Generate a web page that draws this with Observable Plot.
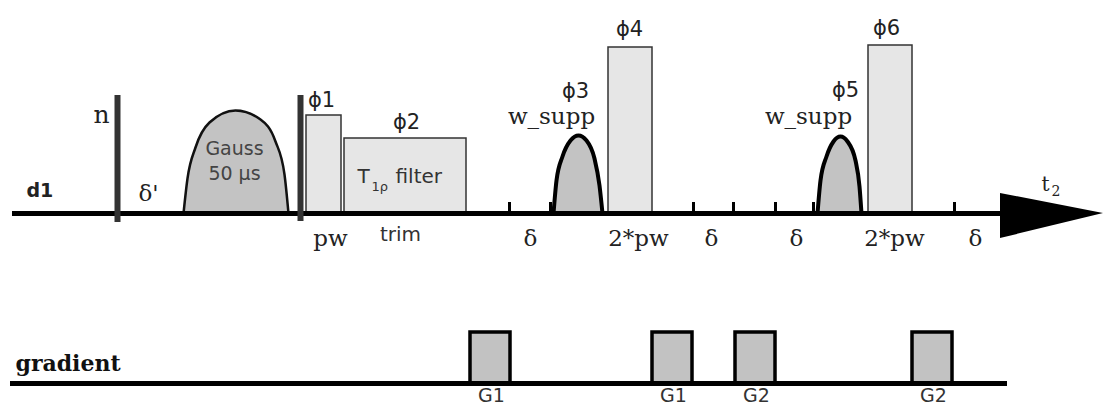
<!DOCTYPE html>
<html>
<head>
<meta charset="utf-8">
<script src="https://cdn.jsdelivr.net/npm/d3@7"></script>
<script src="https://cdn.jsdelivr.net/npm/@observablehq/plot@0.6"></script>
<style>
  html, body { margin: 0; padding: 0; background: #fff; }
  #chart svg { display: block; }
</style>
</head>
<body>
<div id="chart"></div>
<script>
// Channel baselines (RF line and gradient line)
const channels = [
  {name: "rf", y: 213, x1: 12, x2: 1002},
  {name: "gradient", y: 383, x1: 10, x2: 1007}
];
// Rectangular RF pulses
const pulses = [
  {name: "ϕ1", x1: 306, x2: 341, top: 115},
  {name: "ϕ2", x1: 344, x2: 466, top: 138},
  {name: "ϕ4", x1: 608, x2: 652, top: 47},
  {name: "ϕ6", x1: 868, x2: 912, top: 45}
];
// Gradient pulses
const gradients = [
  {name: "G1", x1: 470, x2: 510, top: 332},
  {name: "G1", x1: 652, x2: 692, top: 332},
  {name: "G2", x1: 735, x2: 775, top: 332},
  {name: "G2", x1: 912, x2: 952, top: 332}
];
// Shaped pulse outlines
const gaussShape = [
  {p: "gauss", x: 183, y: 213}, {p: "gauss", x: 187, y: 178}, {p: "gauss", x: 195, y: 147},
  {p: "gauss", x: 209, y: 122}, {p: "gauss", x: 235, y: 110}, {p: "gauss", x: 260, y: 119},
  {p: "gauss", x: 275, y: 141}, {p: "gauss", x: 284, y: 174}, {p: "gauss", x: 288, y: 213}
];
const wsuppShapes = [
  {p: "w1", x: 553, y: 213}, {p: "w1", x: 556, y: 180}, {p: "w1", x: 562, y: 156},
  {p: "w1", x: 570, y: 140}, {p: "w1", x: 578, y: 135}, {p: "w1", x: 586, y: 140},
  {p: "w1", x: 594, y: 158}, {p: "w1", x: 599, y: 185}, {p: "w1", x: 602, y: 213},
  {p: "w2", x: 817, y: 213}, {p: "w2", x: 820, y: 180}, {p: "w2", x: 826, y: 156},
  {p: "w2", x: 833, y: 141}, {p: "w2", x: 840, y: 136}, {p: "w2", x: 847, y: 141},
  {p: "w2", x: 855, y: 160}, {p: "w2", x: 859, y: 186}, {p: "w2", x: 861, y: 213}
];
// Thick vertical bars
const bars = [
  {x: 117, y1: 95, y2: 222},
  {x: 300, y1: 95, y2: 221}
];
// Small delay tick marks
const ticks = [509, 550, 693, 733, 775, 813, 954];
// Acquisition arrow
const arrow = [
  {x: 1000, top: 193, bottom: 238},
  {x: 1103, top: 213, bottom: 213}
];
// Labels
const serifLabels = [
  {text: "δ'", x: 148, y: 193},
  {text: "pw", x: 330, y: 238},
  {text: "δ", x: 530, y: 238},
  {text: "w_supp", x: 551, y: 116},
  {text: "2*pw", x: 638, y: 238},
  {text: "δ", x: 711, y: 238},
  {text: "δ", x: 796, y: 238},
  {text: "w_supp", x: 808, y: 116},
  {text: "2*pw", x: 894, y: 238},
  {text: "δ", x: 975, y: 238}
];
const nLabel = [{text: "n", x: 101, y: 114}];
const phaseLabels = [
  {text: "ϕ1", x: 321, y: 100},
  {text: "ϕ2", x: 406, y: 122},
  {text: "ϕ3", x: 575, y: 91},
  {text: "ϕ4", x: 629, y: 29},
  {text: "ϕ5", x: 845, y: 90},
  {text: "ϕ6", x: 886, y: 28}
];
const sansLabels = [
  {text: "trim", x: 400, y: 234}
];
const gradLabels = [
  {text: "G1", x: 491, y: 395},
  {text: "G1", x: 673, y: 395},
  {text: "G2", x: 756, y: 395},
  {text: "G2", x: 933, y: 395}
];
const gaussLabels = [
  {text: "Gauss", x: 234, y: 148},
  {text: "50 µs", x: 234, y: 173}
];
const filterParts = [
  {text: "T", x: 357, y: 176, size: 20},
  {text: "1ρ", x: 371, y: 186, size: 13},
  {text: "filter", x: 395, y: 176, size: 20}
];
const t2Parts = [
  {text: "t", x: 1041, y: 184, size: 20},
  {text: "2", x: 1051, y: 191, size: 14}
];
const boldLabels = [
  {text: "d1", x: 26, y: 190},
  {text: "gradient", x: 15, y: 363}
];

const serif = "DejaVu Serif, serif";
const sans = "DejaVu Sans, sans-serif";

const chart = Plot.plot({
  width: 1104,
  height: 407,
  margin: 0,
  x: {domain: [0, 1104], range: [0, 1104], axis: null},
  y: {domain: [0, 407], range: [0, 407], axis: null},
  marks: [
    // shaped pulses fill + outline
    Plot.areaY(gaussShape, {x: "x", y1: 213, y2: "y", z: "p", fill: "#c3c3c3", curve: "monotone-x"}),
    Plot.line(gaussShape, {x: "x", y: "y", z: "p", stroke: "#111", strokeWidth: 2.5, curve: "monotone-x"}),
    Plot.areaY(wsuppShapes, {x: "x", y1: 213, y2: "y", z: "p", fill: "#c3c3c3", curve: "monotone-x"}),
    Plot.line(wsuppShapes, {x: "x", y: "y", z: "p", stroke: "#000", strokeWidth: 4, curve: "monotone-x"}),
    // rectangular pulses
    Plot.rect(pulses, {x1: "x1", x2: "x2", y1: "top", y2: 213, fill: "#e6e6e6", stroke: "#333", strokeWidth: 1.5}),
    // gradient pulses
    Plot.rect(gradients, {x1: "x1", x2: "x2", y1: "top", y2: 383, fill: "#c2c2c2", stroke: "#000", strokeWidth: 3.5}),
    // baselines
    Plot.ruleY(channels, {y: "y", x1: "x1", x2: "x2", stroke: "#000", strokeWidth: 5}),
    // ticks
    Plot.ruleX(ticks, {x: d => d, y1: 202, y2: 213, stroke: "#000", strokeWidth: 3}),
    // vertical bars
    Plot.ruleX(bars, {x: "x", y1: "y1", y2: "y2", stroke: "#333", strokeWidth: 6}),
    // arrow
    Plot.area(arrow, {x1: "x", y1: "top", y2: "bottom", fill: "#000"}),
    // labels
    Plot.text(serifLabels, {x: "x", y: "y", text: "text", fontFamily: serif, fontSize: 23, fill: "#222"}),
    Plot.text(nLabel, {x: "x", y: "y", text: "text", fontFamily: serif, fontSize: 25, fill: "#222"}),
    Plot.text(phaseLabels, {x: "x", y: "y", text: "text", fontFamily: sans, fontSize: 21, fill: "#222"}),
    Plot.text(sansLabels, {x: "x", y: "y", text: "text", fontFamily: sans, fontSize: 20, fill: "#333"}),
    Plot.text(gradLabels, {x: "x", y: "y", text: "text", fontFamily: sans, fontSize: 19, fill: "#333"}),
    Plot.text(gaussLabels, {x: "x", y: "y", text: "text", fontFamily: sans, fontSize: 19, fill: "#444"}),
    Plot.text(filterParts, {x: "x", y: "y", text: "text", fontFamily: sans, fontSize: "size", fill: "#333", textAnchor: "start"}),
    Plot.text(t2Parts, {x: "x", y: "y", text: "text", fontFamily: serif, fontSize: "size", fill: "#222", textAnchor: "start"}),
    Plot.text(boldLabels.slice(0, 1), {x: "x", y: "y", text: "text", fontFamily: sans, fontSize: 19, fontWeight: "bold", fill: "#222", textAnchor: "start"}),
    Plot.text(boldLabels.slice(1), {x: "x", y: "y", text: "text", fontFamily: serif, fontSize: 22, fontWeight: "bold", fill: "#111", textAnchor: "start"})
  ]
});
document.getElementById("chart").appendChild(chart);
</script>
</body>
</html>
